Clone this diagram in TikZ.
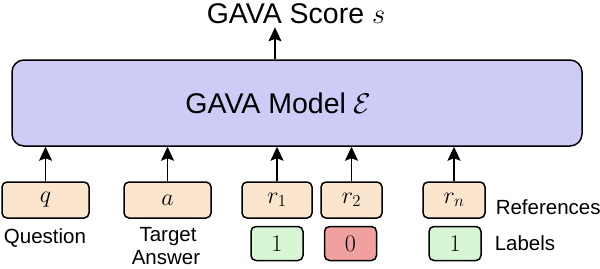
\RequirePackage{fix-cm}
\documentclass[tikz,border=0pt]{standalone}
\usepackage{fontspec}
\setmainfont{Liberation Sans}
\usetikzlibrary{arrows.meta}
\definecolor{modelblue}{RGB}{204,204,246}
\definecolor{inputorange}{RGB}{252,229,205}
\definecolor{labelgreen}{RGB}{214,246,212}
\definecolor{labelred}{RGB}{241,160,160}
\begin{document}
\begin{tikzpicture}[x=1pt, y=-1pt, line width=1.5pt, every node/.style={font=\fontsize{20.5}{24}\selectfont}, big/.style={font=\fontsize{28.5}{32}\selectfont}, inputbox/.style={draw, rounded corners=5pt, fill=inputorange, minimum height=36pt, inner sep=0pt, font=\fontsize{24}{28}\selectfont}, labelbox/.style={draw, rounded corners=5pt, minimum width=52pt, minimum height=34pt, inner sep=0pt, font=\fontsize{24}{28}\selectfont}, arrow/.style={line width=1.6pt, -{Stealth[length=14pt, width=13pt, inset=2.5pt]}}]
	\useasboundingbox (0,0) rectangle (600,268);
		\node[draw, rounded corners=12pt, fill=modelblue, minimum width=570pt, minimum height=86pt, inner sep=0pt] (model) at (297,103) {};
		\node[big, anchor=base, inner sep=0pt] (model-text) at (278.5,113) {GAVA Model $\mathcal{E}$};
		\node[big, anchor=base] (score) at (296,23) {GAVA Score $s$};
		\coordinate (score-in) at (275,0);
		\node[inputbox, minimum width=87pt] (q) at (45.5,200) {$q$};
		\node[inputbox, minimum width=87pt] (a) at (167.5,200) {$a$};
		\node[inputbox, minimum width=70pt] (r1) at (277,200) {$r_1$};
		\node[inputbox, minimum width=61pt] (r2) at (351.5,200) {$r_2$};
		\node[inputbox, minimum width=62pt] (rn) at (454,200) {$r_n$};
		\node[labelbox, fill=labelgreen] (l1) at (277,243.5) {$1$};
		\node[labelbox, fill=labelred] (l2) at (350.5,243.5) {$0$};
		\node[labelbox, fill=labelgreen] (ln) at (455,243.5) {$1$};
		\node[anchor=base, inner sep=0pt] (q-name) at (45,243) {Question};
		\node[anchor=base, inner sep=0pt] (a-name) at (168,241) {Target};
		\node[anchor=base, inner sep=0pt] (a-name2) at (166,264) {Answer};
		\node[anchor=base west, inner sep=0pt] (ref-name) at (495,214) {References};
		\node[anchor=base west, inner sep=0pt] (label-name) at (494,250) {Labels};
		\draw[arrow, line width=1.1pt] (model.north -| score-in) -- (score.south -| score-in);
		\foreach \n in {q, a, r1, r2, rn}
			\draw[arrow] (\n.north) -- (\n.north |- model.south);
	\end{tikzpicture}
\end{document}
